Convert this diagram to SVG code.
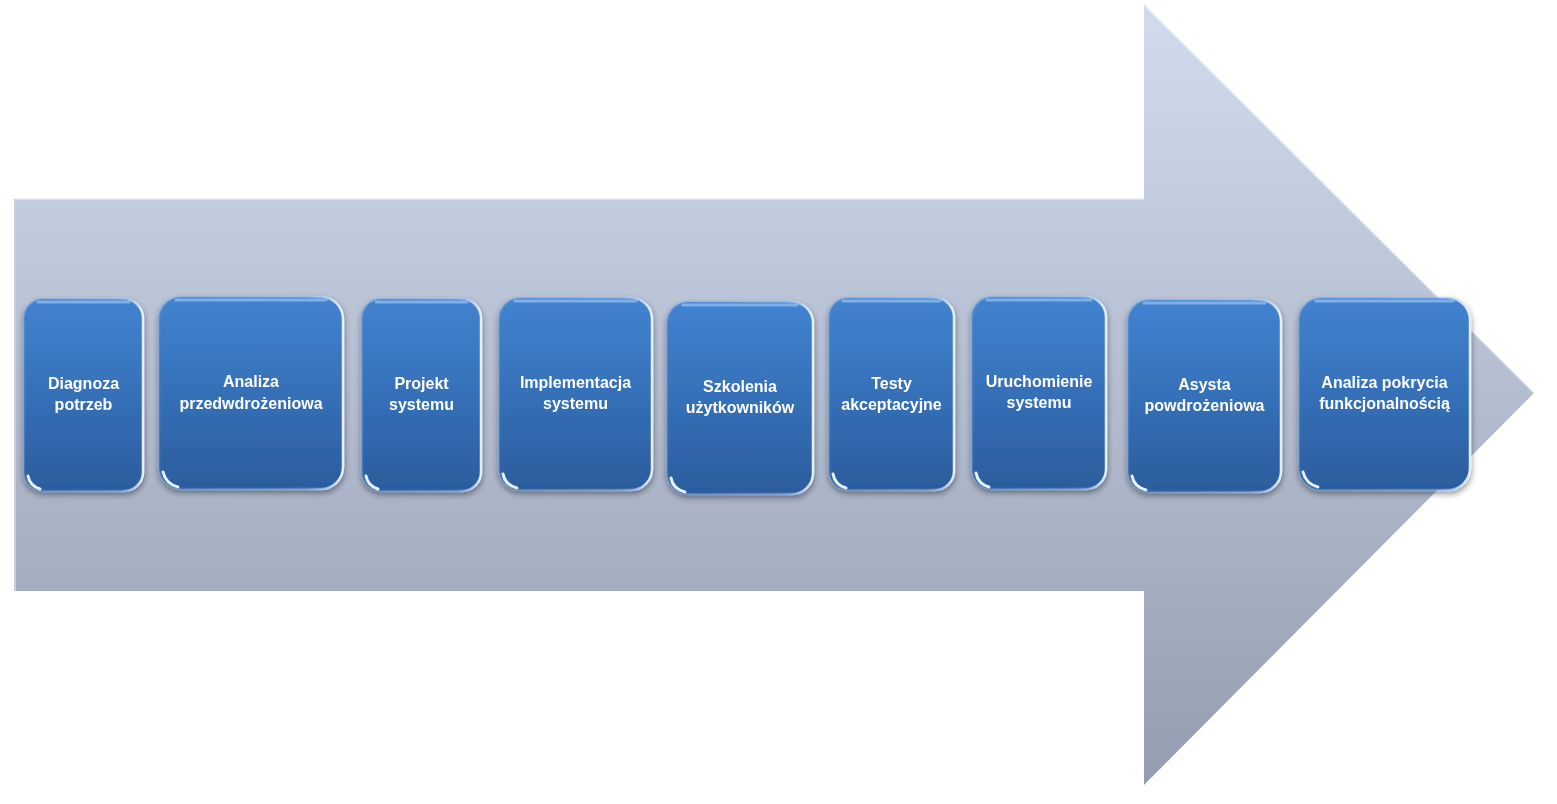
<svg xmlns="http://www.w3.org/2000/svg" width="1557" height="804" viewBox="0 0 1557 804">
<defs>
<linearGradient id="arrowG" x1="0" y1="0" x2="0" y2="1">
<stop offset="0" stop-color="#d0dbee"/>
<stop offset="0.5" stop-color="#b4bdd0"/>
<stop offset="1" stop-color="#949db0"/>
</linearGradient>
<linearGradient id="boxG" x1="0" y1="0" x2="0" y2="1">
<stop offset="0" stop-color="#4183d0"/>
<stop offset="0.5" stop-color="#3570b8"/>
<stop offset="1" stop-color="#2c5c9c"/>
</linearGradient>
<linearGradient id="rimG" x1="0" y1="0" x2="1" y2="0">
<stop offset="0" stop-color="#6aa0e0" stop-opacity="0.35"/>
<stop offset="0.8" stop-color="#8fbcef" stop-opacity="0.45"/>
<stop offset="1" stop-color="#e6f1ff" stop-opacity="1"/>
</linearGradient>
<filter id="sh" x="-10%" y="-10%" width="120%" height="125%">
<feGaussianBlur in="SourceAlpha" stdDeviation="3"/>
<feOffset dx="0" dy="3" result="b"/>
<feComponentTransfer><feFuncA type="linear" slope="0.45"/></feComponentTransfer>
<feMerge><feMergeNode/><feMergeNode in="SourceGraphic"/></feMerge>
</filter>
</defs>
<style>
.box{fill:url(#boxG);stroke:url(#rimG);stroke-width:2.5}
.top{fill:none;stroke:#8fbcef;stroke-width:3;stroke-linecap:round;opacity:0.8}
.glint{fill:none;stroke:#e8f2ff;stroke-width:3;stroke-linecap:round}
.lbl{font-family:"Liberation Sans",Arial,sans-serif;font-weight:bold;font-size:16px;fill:#ffffff;text-anchor:middle}
</style>
<g id="arrow">
<path d="M15,199 L1144,199 L1144,5 L1534,393 L1144,785 L1144,591 L15,591 Z" fill="url(#arrowG)"/>
<path d="M15,199 L1144,199 M1144,5 L1534,393" fill="none" stroke="#e4ebf6" stroke-width="1.5" opacity="0.8"/>
<path d="M15,199 L15,591" stroke="#c9cfdc" stroke-width="2"/>
</g>
<g id="connectors"></g>
<g id="n1" filter="url(#sh)">
<rect class="box" x="24" y="299" width="119" height="192" rx="19"/>
<path class="top" d="M38,302 L129,302"/>
<path class="glint" d="M28,476 Q30,486 40,489"/>
<text class="lbl" x="83.5" y="389">Diagnoza</text>
<text class="lbl" x="83.5" y="410">potrzeb</text>
</g>
<g id="n2" filter="url(#sh)">
<rect class="box" x="159" y="297" width="184" height="192" rx="22"/>
<path class="top" d="M176,300 L326,300"/>
<path class="glint" d="M163,472 Q166,484 178,487"/>
<text class="lbl" x="251" y="387">Analiza</text>
<text class="lbl" x="251" y="409">przedwdrożeniowa</text>
</g>
<g id="n3" filter="url(#sh)">
<rect class="box" x="362" y="299" width="119" height="192" rx="19"/>
<path class="top" d="M376,302 L467,302"/>
<path class="glint" d="M366,476 Q368,486 378,489"/>
<text class="lbl" x="421.5" y="389">Projekt</text>
<text class="lbl" x="421.5" y="410">systemu</text>
</g>
<g id="n4" filter="url(#sh)">
<rect class="box" x="499" y="298" width="153" height="192" rx="21"/>
<path class="top" d="M515,301 L636,301"/>
<path class="glint" d="M503,474 Q505,485 517,488"/>
<text class="lbl" x="575.5" y="388">Implementacja</text>
<text class="lbl" x="575.5" y="409">systemu</text>
</g>
<g id="n5" filter="url(#sh)">
<rect class="box" x="667" y="302" width="146" height="192" rx="21"/>
<path class="top" d="M683,305 L797,305"/>
<path class="glint" d="M671,478 Q673,489 685,492"/>
<text class="lbl" x="740" y="392">Szkolenia</text>
<text class="lbl" x="740" y="413">użytkowników</text>
</g>
<g id="n6" filter="url(#sh)">
<rect class="box" x="829" y="298" width="125" height="192" rx="19"/>
<path class="top" d="M843,301 L940,301"/>
<path class="glint" d="M833,474 Q835,485 846,488"/>
<text class="lbl" x="891.5" y="389">Testy</text>
<text class="lbl" x="891.5" y="410">akceptacyjne</text>
</g>
<g id="n7" filter="url(#sh)">
<rect class="box" x="972" y="297" width="134" height="192" rx="20"/>
<path class="top" d="M987,300 L1091,300"/>
<path class="glint" d="M976,473 Q978,484 989,487"/>
<text class="lbl" x="1039" y="387">Uruchomienie</text>
<text class="lbl" x="1039" y="408">systemu</text>
</g>
<g id="n8" filter="url(#sh)">
<rect class="box" x="1128" y="300" width="153" height="192" rx="21"/>
<path class="top" d="M1144,303 L1265,303"/>
<path class="glint" d="M1132,476 Q1134,487 1146,490"/>
<text class="lbl" x="1204.5" y="390">Asysta</text>
<text class="lbl" x="1204.5" y="411">powdrożeniowa</text>
</g>
<g id="n9" filter="url(#sh)">
<rect class="box" x="1299" y="298" width="171" height="192" rx="22"/>
<path class="top" d="M1316,301 L1453,301"/>
<path class="glint" d="M1303,472 Q1306,484 1318,487"/>
<text class="lbl" x="1384.5" y="388">Analiza pokrycia</text>
<text class="lbl" x="1384.5" y="409">funkcjonalnością</text>
</g>
</svg>
